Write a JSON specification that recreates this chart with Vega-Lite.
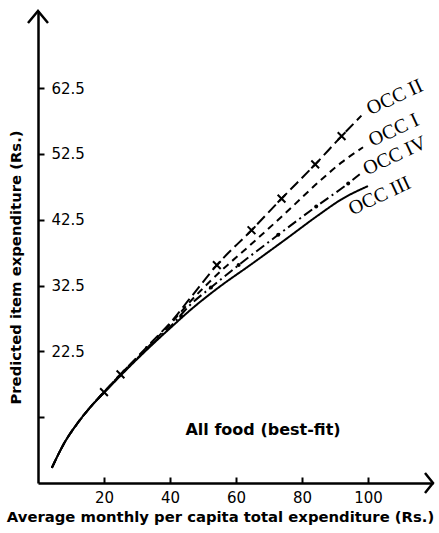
{
  "$schema": "https://vega.github.io/schema/vega-lite/v6.json",
  "width": 395,
  "height": 472,
  "autosize": "none",
  "padding": {"left": 38, "top": 11, "right": 6, "bottom": 50},
  "background": "white",
  "config": {"view": {"stroke": null}, "font": "DejaVu Sans"},
  "datasets": {
    "curves": [
      {"series": "OCC II", "x": 4.2, "y": 4.8}, {"series": "OCC II", "x": 8, "y": 8.6}, {"series": "OCC II", "x": 12, "y": 11.6}, {"series": "OCC II", "x": 16, "y": 14.1}, {"series": "OCC II", "x": 20, "y": 16.3}, {"series": "OCC II", "x": 25, "y": 19.0}, {"series": "OCC II", "x": 30, "y": 21.6}, {"series": "OCC II", "x": 35, "y": 24.2}, {"series": "OCC II", "x": 40, "y": 26.8}, {"series": "OCC II", "x": 46, "y": 30.5}, {"series": "OCC II", "x": 54.2, "y": 35.6}, {"series": "OCC II", "x": 64.7, "y": 40.9}, {"series": "OCC II", "x": 73.8, "y": 45.7}, {"series": "OCC II", "x": 84, "y": 50.9}, {"series": "OCC II", "x": 92, "y": 55.2}, {"series": "OCC II", "x": 98, "y": 58.3},
      {"series": "OCC I", "x": 4.2, "y": 4.8}, {"series": "OCC I", "x": 8, "y": 8.6}, {"series": "OCC I", "x": 12, "y": 11.6}, {"series": "OCC I", "x": 16, "y": 14.1}, {"series": "OCC I", "x": 20, "y": 16.3}, {"series": "OCC I", "x": 25, "y": 19.0}, {"series": "OCC I", "x": 30, "y": 21.5}, {"series": "OCC I", "x": 35, "y": 24.0}, {"series": "OCC I", "x": 40, "y": 26.6}, {"series": "OCC I", "x": 46, "y": 30.0}, {"series": "OCC I", "x": 55, "y": 34.5}, {"series": "OCC I", "x": 64, "y": 38.5}, {"series": "OCC I", "x": 75, "y": 43.5}, {"series": "OCC I", "x": 85, "y": 48.2}, {"series": "OCC I", "x": 92, "y": 51.2}, {"series": "OCC I", "x": 98.5, "y": 53.5},
      {"series": "OCC IV", "x": 4.2, "y": 4.8}, {"series": "OCC IV", "x": 8, "y": 8.6}, {"series": "OCC IV", "x": 12, "y": 11.6}, {"series": "OCC IV", "x": 16, "y": 14.1}, {"series": "OCC IV", "x": 20, "y": 16.3}, {"series": "OCC IV", "x": 25, "y": 18.9}, {"series": "OCC IV", "x": 30, "y": 21.4}, {"series": "OCC IV", "x": 35, "y": 23.8}, {"series": "OCC IV", "x": 40, "y": 26.2}, {"series": "OCC IV", "x": 46, "y": 29.5}, {"series": "OCC IV", "x": 52.4, "y": 32.2}, {"series": "OCC IV", "x": 60.8, "y": 35.6}, {"series": "OCC IV", "x": 72.8, "y": 40.2}, {"series": "OCC IV", "x": 84.3, "y": 44.5}, {"series": "OCC IV", "x": 94, "y": 48.0}, {"series": "OCC IV", "x": 97.5, "y": 49.4},
      {"series": "OCC III", "x": 4.2, "y": 4.8}, {"series": "OCC III", "x": 8, "y": 8.6}, {"series": "OCC III", "x": 12, "y": 11.6}, {"series": "OCC III", "x": 16, "y": 14.1}, {"series": "OCC III", "x": 20, "y": 16.2}, {"series": "OCC III", "x": 25, "y": 18.8}, {"series": "OCC III", "x": 30, "y": 21.3}, {"series": "OCC III", "x": 35, "y": 23.7}, {"series": "OCC III", "x": 40, "y": 26.0}, {"series": "OCC III", "x": 46, "y": 28.7}, {"series": "OCC III", "x": 55, "y": 32.3}, {"series": "OCC III", "x": 64, "y": 35.5}, {"series": "OCC III", "x": 75, "y": 39.5}, {"series": "OCC III", "x": 85, "y": 43.2}, {"series": "OCC III", "x": 92, "y": 45.6}, {"series": "OCC III", "x": 100, "y": 47.6}
    ],
    "crosses": [
      {"x": 20, "y": 16.3}, {"x": 25, "y": 19.0}, {"x": 54.2, "y": 35.6}, {"x": 64.7, "y": 40.9}, {"x": 73.8, "y": 45.7}, {"x": 84, "y": 50.9}, {"x": 92, "y": 55.2}
    ],
    "dots": [
      {"x": 33, "y": 23.0}, {"x": 43.4, "y": 27.8}, {"x": 52.4, "y": 32.2}, {"x": 60.8, "y": 35.6}, {"x": 72.8, "y": 40.2}, {"x": 84.3, "y": 44.5}, {"x": 94, "y": 48.0}
    ],
    "labels": [
      {"label": "OCC II", "x": 108.1, "y": 61.1},
      {"label": "OCC I", "x": 107.8, "y": 56.1},
      {"label": "OCC IV", "x": 108.1, "y": 52.2},
      {"label": "OCC III", "x": 103.5, "y": 46.1}
    ],
    "note": [{"text": "All food (best-fit)", "x": 68.2, "y": 10.5}],
    "arrows": [{"dir": "up", "x": 0, "y": 74.2}, {"dir": "right", "x": 119.7, "y": 2.5}]
  },
  "layer": [
    {
      "data": {"name": "curves"},
      "mark": {"type": "line", "interpolate": "monotone", "color": "black", "strokeWidth": 2},
      "encoding": {
        "x": {
          "field": "x", "type": "quantitative",
          "scale": {"domain": [0, 119.7], "nice": false, "zero": false},
          "axis": {
            "values": [20, 40, 60, 80, 100], "grid": false,
            "tickSize": -6, "tickWidth": 2, "tickColor": "black",
            "domainColor": "black", "domainWidth": 2.5,
            "labelColor": "black", "labelFontSize": 15, "labelPadding": 13,
            "title": "Average monthly per capita total expenditure (Rs.)",
            "titleColor": "black", "titleFontSize": 14.8, "titleFontWeight": "bold",
            "titleX": 182, "titleY": 34, "titleBaseline": "middle", "titleAlign": "center"
          }
        },
        "y": {
          "field": "y", "type": "quantitative",
          "scale": {"domain": [2.5, 74.2], "nice": false, "zero": false},
          "axis": {
            "values": [12.5, 22.5, 32.5, 42.5, 52.5, 62.5], "grid": false,
            "labelExpr": "datum.value == 12.5 ? '' : format(datum.value, '.1f')",
            "tickSize": -6, "tickWidth": 2, "tickColor": "black",
            "domainColor": "black", "domainWidth": 2.5,
            "labelColor": "black", "labelFontSize": 15, "labelAlign": "left", "labelPadding": -7,
            "title": "Predicted item expenditure (Rs.)",
            "titleColor": "black", "titleFontSize": 14.8, "titleFontWeight": "bold",
            "titleX": -22, "titleY": 256, "titleBaseline": "middle", "titleAngle": 270, "titleAlign": "center"
          }
        },
        "detail": {"field": "series", "type": "nominal"},
        "strokeDash": {
          "field": "series", "type": "nominal",
          "scale": {"domain": ["OCC II", "OCC I", "OCC IV", "OCC III"], "range": [[11, 5], [7, 5], [10, 4, 2, 4], [1, 0]]},
          "legend": null
        }
      }
    },
    {
      "data": {"name": "crosses"},
      "mark": {"type": "point", "shape": "M-1,-1L1,1M1,-1L-1,1", "filled": false, "color": "black", "strokeWidth": 2, "size": 60, "opacity": 1},
      "encoding": {"x": {"field": "x", "type": "quantitative"}, "y": {"field": "y", "type": "quantitative"}}
    },
    {
      "data": {"name": "dots"},
      "mark": {"type": "point", "shape": "circle", "filled": true, "color": "black", "size": 16, "opacity": 1},
      "encoding": {"x": {"field": "x", "type": "quantitative"}, "y": {"field": "y", "type": "quantitative"}}
    },
    {
      "data": {"name": "labels"},
      "mark": {"type": "text", "font": "Liberation Serif", "fontSize": 20, "angle": 335, "align": "center", "baseline": "middle", "color": "black"},
      "encoding": {"x": {"field": "x", "type": "quantitative"}, "y": {"field": "y", "type": "quantitative"}, "text": {"field": "label"}}
    },
    {
      "data": {"name": "note"},
      "mark": {"type": "text", "font": "DejaVu Sans", "fontSize": 16, "fontWeight": "bold", "align": "center", "baseline": "middle", "color": "black"},
      "encoding": {"x": {"field": "x", "type": "quantitative"}, "y": {"field": "y", "type": "quantitative"}, "text": {"field": "text"}}
    },
    {
      "data": {"name": "arrows"},
      "mark": {"type": "point", "filled": false, "color": "black", "strokeWidth": 2.5, "size": 400, "opacity": 1},
      "encoding": {
        "x": {"field": "x", "type": "quantitative"},
        "y": {"field": "y", "type": "quantitative"},
        "shape": {"field": "dir", "type": "nominal", "scale": {"domain": ["up", "right"], "range": ["M-1,1.2L0,0L1,1.2", "M-0.8,-1L0,0L-0.8,1"]}, "legend": null}
      }
    }
  ]
}
